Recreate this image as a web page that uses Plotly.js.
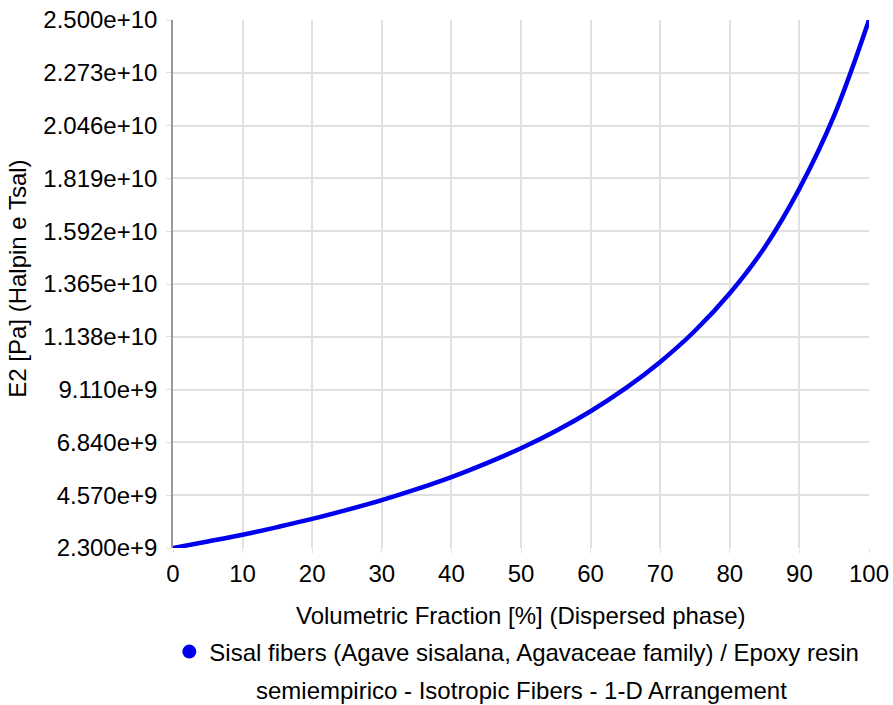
<!DOCTYPE html>
<html>
<head>
<meta charset="utf-8">
<script src="https://cdn.plot.ly/plotly-3.0.1.min.js"></script>
<style>
  html, body { margin: 0; padding: 0; background: #ffffff; }
  #chart { width: 893px; height: 705px; }
</style>
</head>
<body>
<div id="chart"></div>
<script>
// Volumetric fraction of the dispersed phase [%]
const fraction = [0, 5, 10, 15, 20, 25, 30, 35, 40, 45, 50, 55, 60, 65, 70, 75, 80, 85, 90, 95, 100];

// Transverse modulus E2 [Pa], Halpin-Tsai estimate
const modulusE2 = [
  2.30e9, 2.58e9, 2.87e9, 3.20e9, 3.55e9, 3.94e9, 4.36e9, 4.83e9, 5.35e9, 5.94e9,
  6.59e9, 7.33e9, 8.18e9, 9.16e9, 10.30e9, 11.64e9, 13.25e9, 15.22e9, 17.75e9, 20.90e9,
  25.00e9
];

// Y axis ticks
const yTickVals = [2.30e9, 4.57e9, 6.84e9, 9.11e9, 11.38e9, 13.65e9, 15.92e9, 18.19e9, 20.46e9, 22.73e9, 25.00e9];
const yTickText = ['2.300e+9', '4.570e+9', '6.840e+9', '9.110e+9', '1.138e+10', '1.365e+10',
                   '1.592e+10', '1.819e+10', '2.046e+10', '2.273e+10', '2.500e+10'];

// X axis ticks
const xTickVals = [0, 10, 20, 30, 40, 50, 60, 70, 80, 90, 100];

const xTitle = 'Volumetric Fraction [%] (Dispersed phase)';
const yTitle = 'E2 [Pa] (Halpin e Tsal)';
const seriesName = 'Sisal fibers (Agave sisalana, Agavaceae family) / Epoxy resin';
const seriesNote = 'semiempirico - Isotropic Fibers - 1-D Arrangement';

const FONT = '"Liberation Sans", Arial, sans-serif';
const FS = 24;
const BLUE = '#0000ee';

const traces = [
  {
    x: fraction,
    y: modulusE2,
    type: 'scatter',
    mode: 'lines',
    line: { color: BLUE, width: 4.5, shape: 'spline', smoothing: 1 },
    showlegend: false,
    hoverinfo: 'x+y'
  },
  {
    // legend entry only
    x: [null],
    y: [null],
    type: 'scatter',
    mode: 'markers',
    name: seriesName,
    marker: { color: BLUE, size: 14, symbol: 'circle' },
    showlegend: true
  }
];

const textFont = { family: FONT, size: FS, color: '#000000' };

const layout = {
  width: 893,
  height: 705,
  margin: { l: 173, r: 24, t: 20, b: 157 },
  paper_bgcolor: '#ffffff',
  plot_bgcolor: '#ffffff',
  font: textFont,
  showlegend: true,
  xaxis: {
    range: [0, 100],
    tickvals: xTickVals,
    ticktext: xTickVals.map(String),
    showgrid: true,
    gridcolor: '#e0e0e0',
    gridwidth: 1.5,
    zeroline: false,
    showline: false,
    ticks: 'outside',
    ticklen: 4,
    tickcolor: '#e0e0e0',
    tickfont: textFont,
    automargin: false
  },
  yaxis: {
    range: [2.30e9, 25.00e9],
    tickvals: yTickVals,
    ticktext: yTickText,
    showgrid: true,
    gridcolor: '#e0e0e0',
    gridwidth: 1.5,
    zeroline: false,
    showline: true,
    linecolor: '#999999',
    linewidth: 1.5,
    ticks: 'outside',
    ticklen: 5,
    tickcolor: '#e0e0e0',
    ticklabelstandoff: 4,
    tickfont: textFont,
    automargin: false
  },
  legend: {
    orientation: 'h',
    x: 0.494,
    xanchor: 'center',
    y: -0.197,
    yanchor: 'middle',
    font: textFont,
    bgcolor: 'rgba(0,0,0,0)'
  },
  annotations: [
    {
      text: xTitle,
      xref: 'paper', yref: 'paper',
      x: 0.5, y: -0.128,
      xanchor: 'center', yanchor: 'middle',
      showarrow: false,
      font: textFont
    },
    {
      text: yTitle,
      xref: 'paper', yref: 'paper',
      x: -0.2227, y: 0.51,
      xanchor: 'center', yanchor: 'middle',
      textangle: -90,
      showarrow: false,
      font: textFont
    },
    {
      text: seriesNote,
      xref: 'paper', yref: 'paper',
      x: 0.5, y: -0.269,
      xanchor: 'center', yanchor: 'middle',
      showarrow: false,
      font: textFont
    }
  ]
};

Plotly.newPlot('chart', traces, layout, { displayModeBar: false, responsive: false });
</script>
</body>
</html>
